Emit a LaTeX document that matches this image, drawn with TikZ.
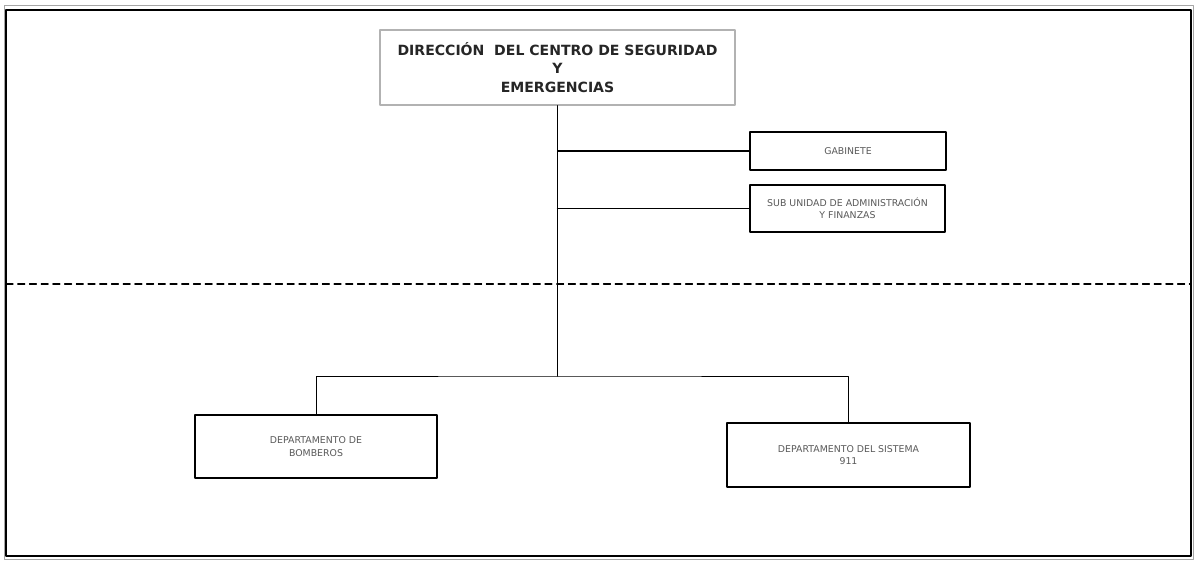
\documentclass[tikz,border=0pt]{standalone}
\usepackage{fontspec}
\setmainfont{DejaVu Sans}
\begin{document}
\begin{tikzpicture}[x=0.03cm, y=-0.03cm, line join=round, line cap=round,
	unidad/.style={draw=black, line width=1.3pt, fill=white, align=center, text=black!65, font=\fontsize{8}{10.5}\selectfont},
	direccion/.style={draw=black!30, line width=1.2pt, fill=white, align=center, text=black!85, font=\bfseries\fontsize{12}{16}\selectfont}]
			\def\xmin{6}
			\def\xmax{1191}
			\def\ymin{10}
			\def\ymax{556}
			\useasboundingbox (0,0) rectangle (1195,569);
			\draw[black!35, line width=0.8pt] (\xmin-2,\ymin-5) rectangle (\xmax+2,\ymax+3);
			\draw[line width=1.8pt] (\xmin,\ymin) rectangle (\xmax,\ymax);
			\draw[dashed, line width=0.9pt, dash pattern=on 6pt off 4pt] (\xmin,284) -- (\xmax,284);
			\node[direccion, minimum width=10.65cm, minimum height=2.25cm] (dir) at (557.5,67.5) {DIRECCIÓN~~DEL CENTRO DE SEGURIDAD\\Y\\EMERGENCIAS};
			\node[unidad, minimum width=5.88cm, minimum height=1.14cm] (gab) at (848,151) {GABINETE};
			\node[unidad, minimum width=5.85cm, minimum height=1.41cm] (sub) at (847.5,208.5) {SUB UNIDAD DE ADMINISTRACIÓN\\Y FINANZAS};
			\node[unidad, minimum width=7.26cm, minimum height=1.89cm] (bomb) at (316,446.5) {DEPARTAMENTO DE\\BOMBEROS};
			\node[unidad, minimum width=7.29cm, minimum height=1.92cm] (sist) at (848.5,455) {DEPARTAMENTO DEL SISTEMA\\911};
			\coordinate (split) at (dir.south |- 0,376);
			\draw[line width=0.9pt] (dir.south) -- (split);
			\draw[line width=0.9pt] (dir.south |- gab.west) -- (gab.west);
			\draw[line width=0.9pt] (dir.south |- sub.west) -- (sub.west);
			\draw[line width=0.7pt] (bomb.north) |- (split) -| (sist.north);
		\end{tikzpicture}
\end{document}
